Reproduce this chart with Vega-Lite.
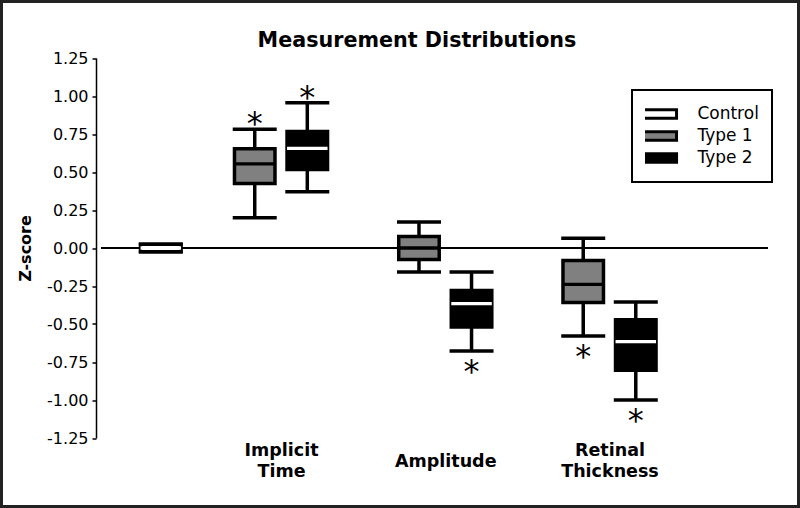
{
  "$schema": "https://vega.github.io/schema/vega-lite/v6.json",
  "width": 797,
  "height": 505,
  "autosize": {"type": "none"},
  "padding": {"left": 1.5, "top": 1.5, "right": 1.5, "bottom": 1.5},
  "background": "white",
  "title": {
    "text": "Measurement Distributions",
    "font": "DejaVu Sans",
    "fontSize": 20.7,
    "fontWeight": "bold",
    "color": "black",
    "anchor": "middle",
    "dx": 17,
    "offset": -66,
    "baseline": "alphabetic"
  },
  "data": {
    "values": [
      {"group": "Control", "type": "Control", "x": 0.268, "min": -0.025, "q1": -0.025, "median": 0, "q3": 0.025, "max": 0.025, "sig": ""},
      {"group": "Implicit Time", "type": "Type 1", "x": 0.84, "min": 0.199, "q1": 0.424, "median": 0.553, "q3": 0.653, "max": 0.781, "sig": "above"},
      {"group": "Implicit Time", "type": "Type 2", "x": 1.16, "min": 0.37, "q1": 0.516, "median": 0.656, "q3": 0.766, "max": 0.956, "sig": "above"},
      {"group": "Amplitude", "type": "Type 1", "x": 1.84, "min": -0.158, "q1": -0.076, "median": 0, "q3": 0.076, "max": 0.171, "sig": ""},
      {"group": "Amplitude", "type": "Type 2", "x": 2.16, "min": -0.678, "q1": -0.52, "median": -0.366, "q3": -0.28, "max": -0.158, "sig": "below"},
      {"group": "Retinal Thickness", "type": "Type 1", "x": 2.84, "min": -0.579, "q1": -0.359, "median": -0.239, "q3": -0.082, "max": 0.064, "sig": "below"},
      {"group": "Retinal Thickness", "type": "Type 2", "x": 3.16, "min": -1.0, "q1": -0.804, "median": -0.616, "q3": -0.472, "max": -0.355, "sig": "below"}
    ]
  },
  "encoding": {
    "x": {
      "field": "x",
      "type": "quantitative",
      "scale": {"domain": [-0.096, 3.965], "range": [94.5, 771.5], "nice": false, "zero": false},
      "axis": {
        "orient": "bottom",
        "offset": -68.5,
        "values": [1, 2, 3],
        "labelExpr": "datum.value == 1 ? ['Implicit', 'Time'] : datum.value == 2 ? 'Amplitude' : ['Retinal', 'Thickness']",
        "domain": false,
        "ticks": false,
        "tickSize": 0,
        "grid": false,
        "title": null,
        "labelFont": "DejaVu Sans",
        "labelFontSize": 17.5,
        "labelFontWeight": "bold",
        "labelColor": "black",
        "labelBaseline": "middle",
        "labelLineHeight": 21,
        "labelPadding": {"condition": {"test": "datum.value == 2", "value": 23}, "value": 12},
        "labelFlush": false,
        "labelOverlap": false
      }
    }
  },
  "layer": [
    {
      "mark": {"type": "rule", "color": "black", "strokeWidth": 1.5},
      "encoding": {
        "x": {"datum": -0.096, "type": "quantitative"},
        "x2": {"datum": 3.965},
        "y": {"datum": 0, "type": "quantitative", "scale": {"domain": [-1.25, 1.25], "range": [436.5, 56.5], "nice": false, "zero": false}}
      }
    },
    {
      "mark": {"type": "rule", "color": "black", "strokeWidth": 3.5},
      "encoding": {
        "y": {"field": "min", "type": "quantitative", "scale": {"domain": [-1.25, 1.25], "range": [436.5, 56.5], "nice": false, "zero": false}},
        "y2": {"field": "max"}
      }
    },
    {
      "mark": {"type": "bar", "orient": "vertical", "size": 40.5, "stroke": "black", "strokeWidth": 3.5},
      "encoding": {
        "y": {
          "field": "q1",
          "type": "quantitative",
          "scale": {"domain": [-1.25, 1.25], "range": [436.5, 56.5], "nice": false, "zero": false},
          "axis": {
            "orient": "left",
            "offset": -94.5,
            "values": [-1.25, -1, -0.75, -0.5, -0.25, 0, 0.25, 0.5, 0.75, 1, 1.25],
            "labelExpr": "(datum.value < 0 ? '-' : '') + format(abs(datum.value), '.2f')",
            "title": "Z-score",
            "titleFont": "DejaVu Sans",
            "titleFontSize": 16,
            "titleFontWeight": "bold",
            "titleColor": "black",
            "titlePadding": 13,
            "labelFont": "DejaVu Sans",
            "labelFontSize": 16,
            "labelColor": "black",
            "labelPadding": 4,
            "labelBaseline": "middle",
            "labelFlush": false,
            "labelOverlap": false,
            "tickSize": 4,
            "tickWidth": 1.5,
            "tickColor": "black",
            "domainColor": "black",
            "domainWidth": 1.5,
            "grid": false
          }
        },
        "y2": {"field": "q3"},
        "fill": {
          "field": "type",
          "type": "nominal",
          "scale": {"domain": ["Control", "Type 1", "Type 2"], "range": ["white", "#808080", "black"]},
          "legend": {
            "title": null,
            "orient": "none",
            "legendX": 630.5,
            "legendY": 88.5,
            "symbolType": "M-3.73,-0.84H3.73V0.84H-3.73Z",
            "symbolSize": 100,
            "symbolStrokeWidth": 3,
            "symbolStrokeColor": "black",
            "symbolOpacity": 1,
            "symbolOffset": 4.4,
            "labelOffset": 31,
            "labelFont": "DejaVu Sans",
            "labelFontSize": 17,
            "labelColor": "black",
            "clipHeight": 22,
            "rowPadding": 0,
            "padding": 13,
            "strokeColor": "black"
          }
        }
      }
    },
    {
      "mark": {"type": "tick", "orient": "horizontal", "size": 40.5, "thickness": 3.3, "opacity": 1},
      "encoding": {
        "y": {"field": "median", "type": "quantitative", "scale": {"domain": [-1.25, 1.25], "range": [436.5, 56.5], "nice": false, "zero": false}},
        "color": {"condition": {"test": "datum.type == 'Type 1'", "value": "black"}, "value": "white"}
      }
    },
    {
      "mark": {"type": "tick", "orient": "horizontal", "size": 44, "thickness": 3.5, "color": "black", "opacity": 1},
      "encoding": {
        "y": {"field": "min", "type": "quantitative", "scale": {"domain": [-1.25, 1.25], "range": [436.5, 56.5], "nice": false, "zero": false}}
      }
    },
    {
      "mark": {"type": "tick", "orient": "horizontal", "size": 44, "thickness": 3.5, "color": "black", "opacity": 1},
      "encoding": {
        "y": {"field": "max", "type": "quantitative", "scale": {"domain": [-1.25, 1.25], "range": [436.5, 56.5], "nice": false, "zero": false}}
      }
    },
    {
      "transform": [{"filter": "datum.sig == 'above'"}],
      "mark": {"type": "text", "text": "*", "font": "DejaVu Sans", "fontSize": 32, "baseline": "middle", "dy": -5, "color": "black"},
      "encoding": {
        "y": {"field": "max", "type": "quantitative", "scale": {"domain": [-1.25, 1.25], "range": [436.5, 56.5], "nice": false, "zero": false}}
      }
    },
    {
      "transform": [{"filter": "datum.sig == 'below'"}],
      "mark": {"type": "text", "text": "*", "font": "DejaVu Sans", "fontSize": 32, "baseline": "middle", "dy": 20.5, "color": "black"},
      "encoding": {
        "y": {"field": "min", "type": "quantitative", "scale": {"domain": [-1.25, 1.25], "range": [436.5, 56.5], "nice": false, "zero": false}}
      }
    }
  ],
  "config": {
    "font": "DejaVu Sans",
    "view": {"stroke": "#222222", "strokeWidth": 3},
    "legend": {"strokeWidth": 2}
  }
}
